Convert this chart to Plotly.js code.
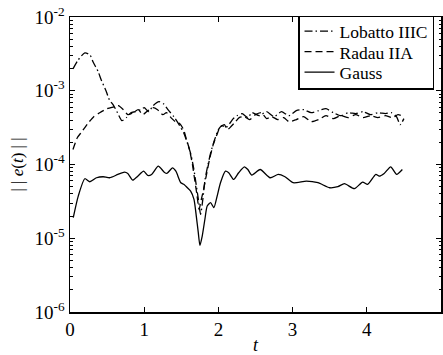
<!DOCTYPE html>
<html>
<head>
<meta charset="utf-8">
<script src="https://cdn.plot.ly/plotly-3.0.1.min.js"></script>
<style>html,body{margin:0;padding:0;overflow:hidden;background:#fff}</style>
</head>
<body>
<div id="chart"></div>
<script>
// Lobatto IIIC
const lobattoT = [0.04,0.11,0.2,0.27,0.31,0.38,0.42,0.49,0.53,0.58,0.64,0.70,0.76,0.82,0.88,0.95,1.0,1.06,1.12,1.2,1.26,1.32,1.4,1.47,1.53,1.58,1.63,1.67,1.7,1.73,1.76,1.79,1.82,1.86,1.9,1.95,2.0,2.05,2.1,2.15,2.2,2.25,2.32,2.4,2.45,2.55,2.65,2.75,2.85,2.95,3.05,3.15,3.25,3.35,3.45,3.55,3.65,3.75,3.85,3.95,4.05,4.15,4.25,4.33,4.4,4.45,4.5];
const lobattoE = [1.98e-3,2.62e-3,3.26e-3,3.06e-3,2.47e-3,1.81e-3,1.41e-3,9.7e-4,7.55e-4,6.47e-4,5.04e-4,3.93e-4,4.32e-4,5.04e-4,5.2e-4,5.54e-4,5.89e-4,5.2e-4,6.27e-4,7.1e-4,6.67e-4,5.54e-4,4.45e-4,3.47e-4,2.71e-4,1.98e-4,1.36e-4,8.55e-5,5.37e-5,3.36e-5,2.11e-5,3.36e-5,6.27e-5,1.0e-4,1.5e-4,2.18e-4,2.97e-4,3.37e-4,3.16e-4,3.58e-4,4.19e-4,4.59e-4,4.89e-4,4.32e-4,5.04e-4,4.59e-4,5.2e-4,4.45e-4,5.2e-4,4.59e-4,5.37e-4,5.54e-4,5.04e-4,5.37e-4,5.71e-4,5.04e-4,4.59e-4,5.04e-4,4.89e-4,5.2e-4,4.74e-4,5.04e-4,4.89e-4,5.04e-4,4.45e-4,3.47e-4,4.19e-4];

// Radau IIA
const radauT = [0.04,0.1,0.16,0.25,0.32,0.4,0.5,0.6,0.65,0.72,0.78,0.85,0.92,0.98,1.05,1.12,1.18,1.25,1.3,1.36,1.42,1.48,1.53,1.57,1.61,1.65,1.68,1.71,1.74,1.77,1.8,1.84,1.88,1.93,1.98,2.02,2.08,2.12,2.17,2.22,2.28,2.35,2.42,2.5,2.58,2.65,2.72,2.8,2.88,2.95,3.05,3.15,3.25,3.35,3.45,3.55,3.65,3.75,3.85,3.95,4.05,4.15,4.25,4.35,4.42,4.5];
const radauE = [1.6e-4,2.32e-4,2.79e-4,3.7e-4,4.45e-4,5.04e-4,5.71e-4,6.08e-4,6.27e-4,5.54e-4,4.74e-4,5.04e-4,5.54e-4,4.74e-4,5.37e-4,5.89e-4,5.54e-4,4.74e-4,5.04e-4,4.32e-4,3.81e-4,3.58e-4,2.97e-4,2.18e-4,1.6e-4,1.0e-4,6.27e-5,3.94e-5,2.47e-5,3.36e-5,4.59e-5,7.33e-5,1.17e-4,1.86e-4,2.54e-4,3.16e-4,3.47e-4,2.97e-4,3.27e-4,3.7e-4,4.32e-4,4.45e-4,4.06e-4,4.74e-4,5.04e-4,4.19e-4,4.45e-4,4.06e-4,4.32e-4,3.81e-4,4.06e-4,4.45e-4,3.81e-4,4.06e-4,4.59e-4,4.19e-4,4.59e-4,4.32e-4,4.74e-4,4.32e-4,4.59e-4,4.32e-4,4.59e-4,4.32e-4,4.74e-4,4.45e-4];

// Gauss
const gaussT = [0.044,0.111,0.2,0.267,0.357,0.445,0.535,0.646,0.735,0.779,0.846,0.913,0.993,1.047,1.1,1.19,1.27,1.306,1.381,1.427,1.493,1.537,1.582,1.626,1.671,1.702,1.729,1.751,1.782,1.818,1.849,1.894,1.939,1.983,2.028,2.095,2.139,2.206,2.273,2.35,2.397,2.451,2.563,2.697,2.807,2.897,3.008,3.186,3.342,3.499,3.61,3.699,3.833,3.944,4.011,4.122,4.167,4.234,4.322,4.402,4.479];
const gaussE = [1.9e-5,3.73e-5,6.41e-5,5.84e-5,6.61e-5,6.82e-5,6.61e-5,7.33e-5,7.87e-5,7.56e-5,6.13e-5,6.95e-5,8.12e-5,7.1e-5,7.33e-5,9.48e-5,7.87e-5,7.56e-5,9.02e-5,8.12e-5,5.66e-5,5.37e-5,4.84e-5,4.36e-5,3.36e-5,2.0e-5,1.19e-5,8.0e-6,1.07e-5,1.81e-5,2.73e-5,3.04e-5,2.6e-5,3.73e-5,5.66e-5,8.12e-5,7.73e-5,6.27e-5,7.73e-5,9.3e-5,8.55e-5,7.17e-5,8.55e-5,6.61e-5,7.33e-5,6.82e-5,5.66e-5,5.95e-5,5.66e-5,4.84e-5,5.0e-5,5.49e-5,4.7e-5,5.77e-5,5.37e-5,7.33e-5,6.95e-5,7.56e-5,9.31e-5,7.33e-5,8.55e-5];

const xTicks = [0,1,2,3,4,5];
const yTicks = [1e-6,1e-5,1e-4,1e-3,1e-2];
const yTickText = ['10<sup>-6</sup>','10<sup>-5</sup>','10<sup>-4</sup>','10<sup>-3</sup>','10<sup>-2</sup>'];
const minorDigits = [2,3,4,5,6,7,8,9];
const minorDecades = [1e-6,1e-5,1e-4,1e-3];
const yMinorTicks = [];
minorDecades.forEach(d => minorDigits.forEach(m => yMinorTicks.push(m * d)));

const FONT = 'Liberation Serif';
const lineW = 1.3;

const traces = [
  {x: lobattoT, y: lobattoE, name: 'Lobatto IIIC', mode: 'lines',
   line: {color: '#000', width: lineW, dash: '8px,3px,1.5px,3px', shape: 'spline', smoothing: 0.6}},
  {x: radauT, y: radauE, name: 'Radau IIA', mode: 'lines',
   line: {color: '#000', width: lineW, dash: '7px,4px', shape: 'spline', smoothing: 0.6}},
  {x: gaussT, y: gaussE, name: 'Gauss', mode: 'lines',
   line: {color: '#000', width: lineW, shape: 'spline', smoothing: 0.6}}
];

const layout = {
  width: 443, height: 355,
  margin: {l: 70, r: 1.5, t: 17, b: 43},
  paper_bgcolor: '#fff', plot_bgcolor: '#fff',
  font: {family: FONT, size: 17, color: '#000'},
  showlegend: true,
  legend: {x: 0.982, xanchor: 'right', y: 1.003, yanchor: 'top',
           bordercolor: '#000', borderwidth: 1.2, bgcolor: '#fff',
           font: {family: FONT, size: 17.5, color: '#000'},
           tracegroupgap: 0, itemwidth: 30},
  xaxis: {range: [0, 5], tickvals: xTicks, ticktext: xTicks.map(String),
          ticks: 'inside', ticklen: 5, tickwidth: 1, tickcolor: '#000',
          showline: true, linecolor: '#000', linewidth: 1.5, mirror: 'ticks',
          showgrid: false, zeroline: false,
          tickfont: {family: FONT, size: 19},
          title: {text: '<i>t</i>', font: {family: FONT, size: 18}, standoff: 2}},
  yaxis: {type: 'log', range: [-6, -2], tickvals: yTicks, ticktext: yTickText,
          ticks: 'inside', ticklen: 5, tickwidth: 1, tickcolor: '#000',
          minor: {tickmode: 'array', tickvals: yMinorTicks, ticks: 'inside', ticklen: 2.5,
                  tickwidth: 1, tickcolor: '#000', showgrid: false},
          showline: true, linecolor: '#000', linewidth: 1.5, mirror: 'ticks',
          showgrid: false, zeroline: false,
          tickfont: {family: FONT, size: 19},
          title: {text: '| | <i>e</i>(<i>t</i>) | |', font: {family: FONT, size: 17}, standoff: 6}}
};

Plotly.newPlot('chart', traces, layout, {displayModeBar: false, staticPlot: true}).then(gd => {
  // tighten legend row spacing to match the reference
  const rows = gd.querySelectorAll('.legend .traces');
  const spacing = 20.5;
  if (rows.length > 1) {
    const parse = el => {
      const m = /translate\(\s*([-\d.]+)[ ,]+([-\d.]+)/.exec(el.getAttribute('transform') || '');
      return m ? [parseFloat(m[1]), parseFloat(m[2])] : [0, 0];
    };
    const p0 = parse(rows[0]);
    const p1 = parse(rows[1]);
    const oldSpacing = p1[1] - p0[1];
    const shift = -4;
    rows.forEach((r, i) => {
      const p = parse(r);
      r.setAttribute('transform', 'translate(' + p[0] + ',' + (p0[1] + shift + i * spacing) + ')');
    });
    const bg = gd.querySelector('.legend .bg');
    if (bg) {
      const h = parseFloat(bg.getAttribute('height'));
      bg.setAttribute('height', h - (oldSpacing - spacing) * (rows.length - 1) - 6);
    }
  }
});
</script>
</body>
</html>
